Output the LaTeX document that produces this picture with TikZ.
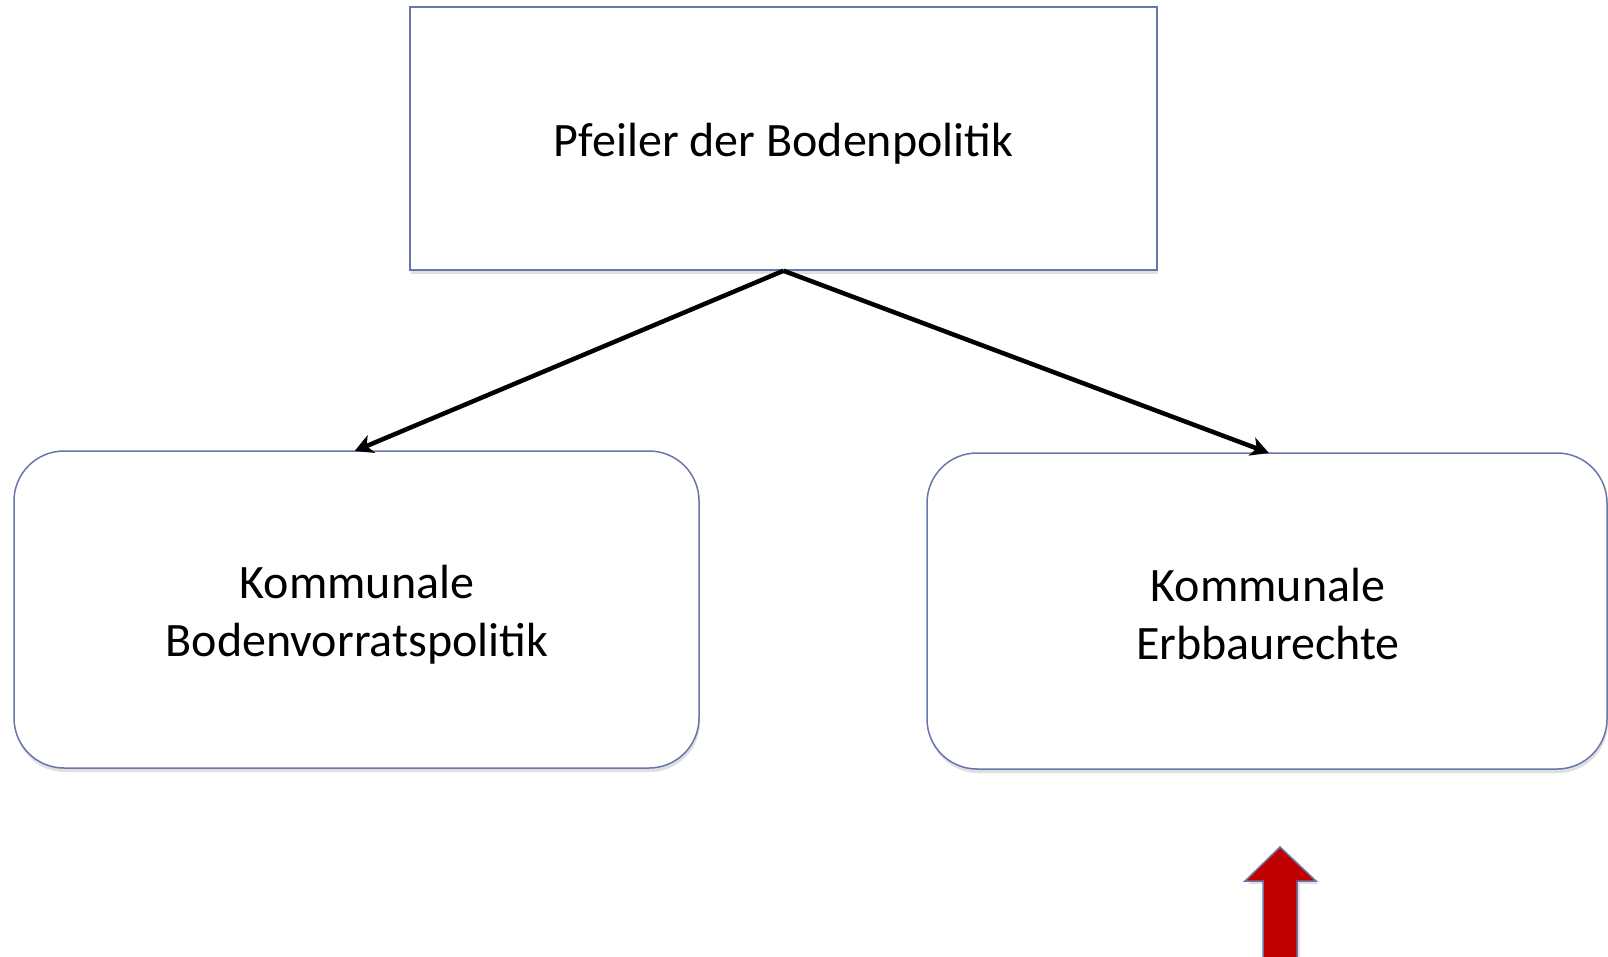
\documentclass[tikz,border=0pt]{standalone}
\usepackage{fontspec}
\setmainfont{Carlito}
\usetikzlibrary{arrows.meta,shadows}
\definecolor{boxline}{RGB}{105,118,170}
\definecolor{arrred}{RGB}{192,0,0}
\tikzset{
  box/.style={draw=boxline, line width=1.5pt, fill=white, inner sep=0pt, align=center,
    drop shadow={shadow xshift=1pt, shadow yshift=-4pt, fill=black, opacity=0.12}},
  roundbox/.style={box, rounded corners=50pt},
  txt/.style={align=center, inner sep=0pt, font=\fontsize{48}{58}\selectfont},
  conn/.style={draw=black, line width=4.5pt, -{Stealth[length=18pt,width=19pt,inset=5pt]}, shorten >=-2pt},
}
\begin{document}
\begin{tikzpicture}[x=1pt,y=-1pt]
\useasboundingbox (0,0) rectangle (1608,956);
\node[box, minimum width=747pt, minimum height=263pt] (top) at (783.5,138.5) {};
\node[roundbox, minimum width=685pt, minimum height=317pt] (left) at (356.5,609.5) {};
\node[roundbox, minimum width=680pt, minimum height=316pt] (right) at (1267,611) {};
\node[txt] (toptext) at (783.5,144) {Pfeiler der Bodenpolitik};
\node[txt] (lefttext) at (357,615) {Kommunale\\Bodenvorratspolitik};
\node[txt] (righttext) at (1268,614) {Kommunale\\Erbbaurechte};
\draw[conn] (top.south) -- (left.north);
\draw[conn] (top.south) -- (right.north);
\fill[black, opacity=0.12] (1282,850) -- (1318,884) -- (1300,884) -- (1300,960) -- (1266,960) -- (1266,884) -- (1248,884) -- cycle;
\draw[draw=boxline, line width=1.5pt, fill=arrred] (1280,847) -- (1316,881) -- (1297,881) -- (1297,962) -- (1263,962) -- (1263,881) -- (1245,881) -- cycle;
\end{tikzpicture}
\end{document}
